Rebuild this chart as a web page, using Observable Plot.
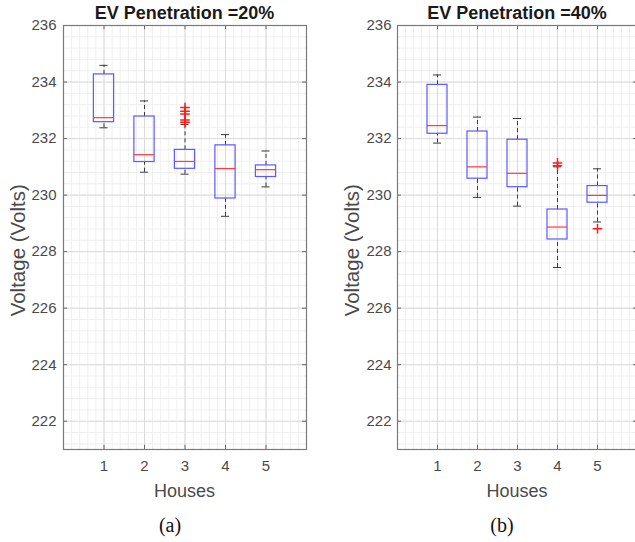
<!DOCTYPE html>
<html><head><meta charset="utf-8">
<script src="https://cdn.jsdelivr.net/npm/d3@7"></script>
<script src="https://cdn.jsdelivr.net/npm/@observablehq/plot@0.6"></script>
<style>
body{margin:0;background:#fff;}
#wrap{position:relative;width:635px;height:542px;overflow:hidden;background:#fff;font-family:"Liberation Sans",Arial,sans-serif;}
.t{position:absolute;white-space:nowrap;line-height:1;}
.svgbox{position:absolute;top:0;}
.svgbox svg{max-width:none !important;}
</style></head><body><div id="wrap"></div>
<script>
// ---- data ----
const houses = [1, 2, 3, 4, 5];
const xTicks = [1, 2, 3, 4, 5];
const yTicks = [222, 224, 226, 228, 230, 232, 234, 236];
const titles = ["EV Penetration =20%", "EV Penetration =40%"];
const captions = ["(a)", "(b)"];
const xLabel = "Houses";
const yLabel = "Voltage (Volts)";

// Panel (a): EV penetration 20%
const aLow  = [232.38, 230.81, 230.74, 229.25, 230.29];
const aQ1   = [232.58, 231.17, 230.93, 229.88, 230.64];
const aMed  = [232.74, 231.43, 231.19, 230.94, 230.90];
const aQ3   = [234.27, 232.78, 231.60, 231.76, 231.05];
const aHigh = [234.59, 233.33, 232.50, 232.14, 231.56];
const aOutHouse = [3, 3, 3, 3, 3];
const aOutVal   = [233.10, 232.97, 232.87, 232.66, 232.58];

// Panel (b): EV penetration 40%
const bLow  = [231.84, 229.92, 229.61, 227.44, 229.05];
const bQ1   = [232.17, 230.58, 230.28, 228.43, 229.73];
const bMed  = [232.46, 231.00, 230.77, 228.87, 229.99];
const bQ3   = [233.90, 232.25, 231.96, 229.49, 230.32];
const bHigh = [234.25, 232.76, 232.71, 231.00, 230.93];
const bOutHouse = [4, 4, 5];
const bOutVal   = [231.14, 231.04, 228.81];

const FONT = '"Liberation Sans", Arial, Helvetica, sans-serif';
const wrap = document.getElementById("wrap");

function panel(low, q1, med, q3, high, oh, ov, cfg) {
  const boxes = houses.map((h, i) => ({h, low: low[i], q1: q1[i], med: med[i], q3: q3[i], high: high[i]}));
  const outs = oh.map((h, i) => ({h, v: ov[i]}));
  const xMinor = d3.range(0, 31).map(k => k * 0.2);
  const yMinor = d3.range(0, 38).map(k => 221.2 + k * 0.4);
  const hw = 0.25, cw = 0.1;
  return Plot.plot({
    width: cfg.width, height: 500,
    marginLeft: cfg.ml, marginRight: cfg.mr, marginTop: 25, marginBottom: 51,
    x: {domain: [0, 6], label: null},
    y: {domain: [221, 236], label: null},
    style: {fontFamily: FONT, fontSize: "15px", color: "#4a4a4a", background: "transparent", overflow: "visible", maxWidth: "none"},
    marks: [
      Plot.ruleX(xMinor, {stroke: "#efefef", strokeWidth: 1}),
      Plot.ruleY(yMinor, {stroke: "#efefef", strokeWidth: 1}),
      Plot.ruleX(xTicks, {stroke: "#dadada", strokeWidth: 1}),
      Plot.ruleY(yTicks, {stroke: "#dadada", strokeWidth: 1}),
      // inward ticks
      Plot.ruleY(yTicks, {x1: 0, x2: 0.1, stroke: "#666"}),
      Plot.ruleY(yTicks, {x1: 5.9, x2: 6, stroke: "#666"}),
      Plot.ruleX(xTicks, {y1: 221, y2: 221.15, stroke: "#666"}),
      Plot.ruleX(xTicks, {y1: 236, y2: 235.85, stroke: "#666"}),
      // whiskers
      Plot.ruleX(boxes, {x: "h", y1: "q3", y2: "high", stroke: "#3a3a3a", strokeDasharray: "4,3"}),
      Plot.ruleX(boxes, {x: "h", y1: "low", y2: "q1", stroke: "#3a3a3a", strokeDasharray: "4,3"}),
      Plot.ruleY(boxes, {y: "high", x1: d => d.h - cw, x2: d => d.h + cw, stroke: "#3a3a3a"}),
      Plot.ruleY(boxes, {y: "low", x1: d => d.h - cw, x2: d => d.h + cw, stroke: "#3a3a3a"}),
      // boxes
      Plot.rect(boxes, {x1: d => d.h - hw, x2: d => d.h + hw, y1: "q1", y2: "q3", fill: "none", stroke: "#5a5aff", strokeWidth: 1.2, inset: 0}),
      Plot.ruleY(boxes, {y: "med", x1: d => d.h - hw, x2: d => d.h + hw, stroke: "#ff3b3b", strokeWidth: 1.2}),
      // outliers
      Plot.dot(outs, {x: "h", y: "v", symbol: "plus", r: 3.2, stroke: "#ff1a1a", strokeWidth: 1.5}),
      Plot.frame({stroke: "#7a7a7a", strokeWidth: 1.2}),
      Plot.axisX({ticks: xTicks, tickSize: 0, tickPadding: 11, tickFormat: d => String(d), fontSize: 15}),
      Plot.axisY({ticks: yTicks, tickSize: 0, tickPadding: cfg.tp, tickFormat: d => String(d), fontSize: 15})
    ]
  });
}

function addText(txt, css) {
  const d = document.createElement("div");
  d.className = "t";
  d.textContent = txt;
  Object.assign(d.style, css);
  wrap.appendChild(d);
  return d;
}

const cfgs = [
  {left: 0, width: 315, ml: 63, mr: 9, tp: 7, fx: 184.5, cap: 170},
  {left: 320, width: 320, ml: 77, mr: 3, tp: 6, fx: 517, cap: 502}
];
const data = [
  [aLow, aQ1, aMed, aQ3, aHigh, aOutHouse, aOutVal],
  [bLow, bQ1, bMed, bQ3, bHigh, bOutHouse, bOutVal]
];

cfgs.forEach((c, i) => {
  const svg = panel(...data[i], c);
  svg.style.maxWidth = "none";
  const holder = document.createElement("div");
  holder.className = "svgbox";
  holder.style.left = c.left + "px";
  holder.style.width = c.width + "px";
  holder.style.height = "500px";
  holder.appendChild(svg);
  wrap.appendChild(holder);
  const frameLeft = c.left + c.ml;
  // title
  addText(titles[i], {left: (c.fx - 150) + "px", width: "300px", textAlign: "center", top: "4px", fontSize: "18px", fontWeight: "bold", color: "#1a1a1a"});
  // x label
  addText(xLabel, {left: (c.fx - 100) + "px", width: "200px", textAlign: "center", top: "482px", fontSize: "18px", color: "#4a4a4a"});
  // y label
  addText(yLabel, {left: (frameLeft - 45 - 100) + "px", width: "200px", textAlign: "center", top: (250 - 10) + "px", fontSize: "20.5px", color: "#4a4a4a", transform: "rotate(-90deg)", transformOrigin: "50% 50%"});
  // caption
  addText(captions[i], {left: (c.cap - 50) + "px", width: "100px", textAlign: "center", top: "515px", fontSize: "20px", fontFamily: '"Liberation Serif", "Times New Roman", serif', color: "#111"});
});
</script>
</body></html>
